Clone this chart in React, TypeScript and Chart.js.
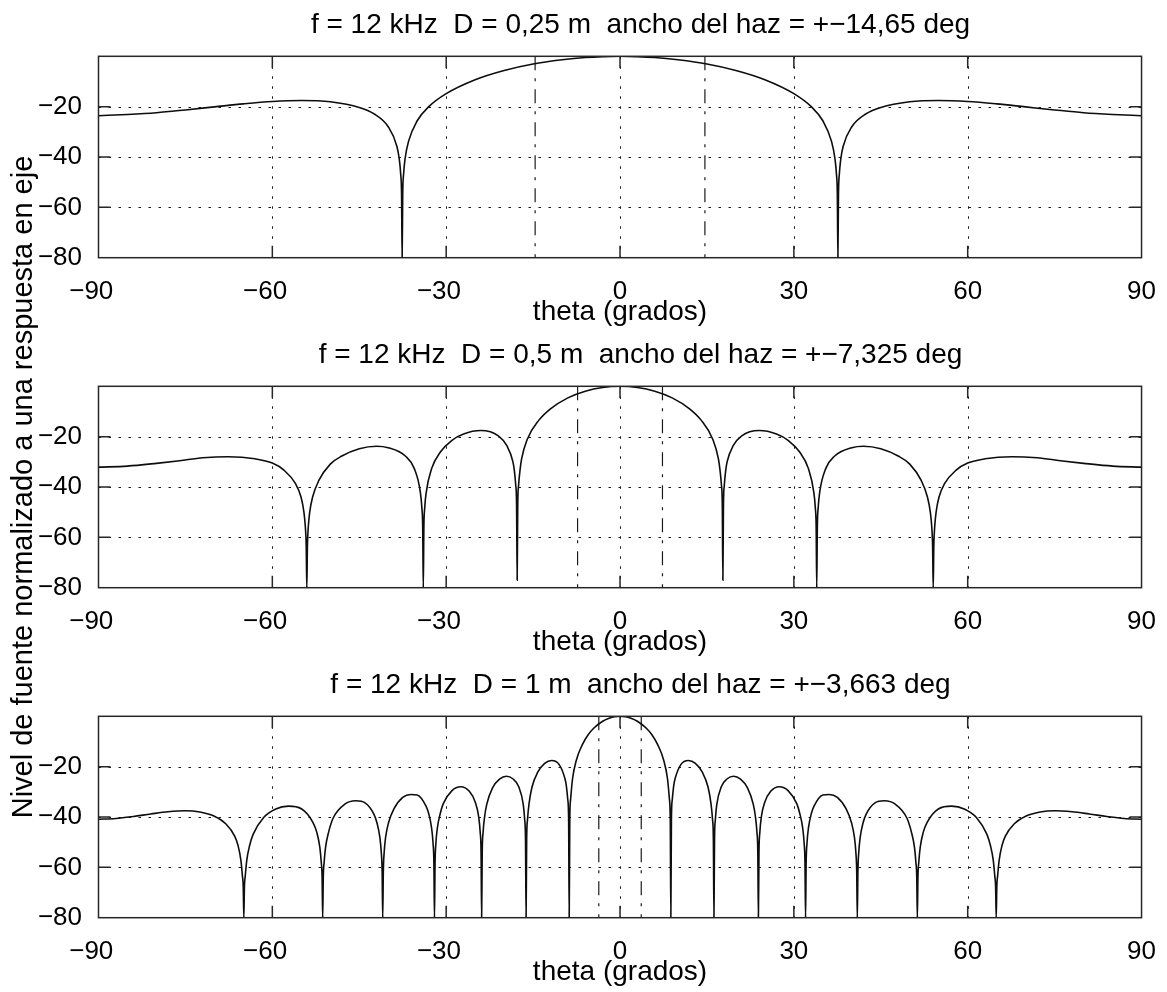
import React, { useEffect, useRef } from "react";
import { Chart, registerables } from "chart.js";

Chart.register(...registerables);

const FONT = "'Liberation Sans', Arial, Helvetica, sans-serif";

// ---- axis ticks ----
const xTickValues = [-90, -60, -30, 0, 30, 60, 90];
const yTickValues = [-80, -60, -40, -20, 0];

// ---- texts ----
const panelTitles = [
  "f = 12 kHz  D = 0,25 m  ancho del haz = +\u221214,65 deg",
  "f = 12 kHz  D = 0,5 m  ancho del haz = +\u22127,325 deg",
  "f = 12 kHz  D = 1 m  ancho del haz = +\u22123,663 deg",
];
const xAxisLabel = "theta (grados)";
const yAxisLabel = "Nivel de fuente normalizado a una respuesta en eje";

// ---- beam width markers (deg) ----
const beamWidths = [14.65, 7.325, 3.663];

// ---- panel 1: D = 0,25 m ----
const theta1 = [
  -90, -85, -80, -75, -70, -65, -60, -55, -50, -45,
  -42.5, -40, -38.5, -38.1, -37.85, -37.7, -37.6, -37.5, -37.35, -37.1,
  -36.5, -35, -33, -30, -25, -20, -15, -10, -6, -3,
  0,
  3, 6, 10, 15, 20, 25, 30, 33, 35, 36.5,
  37.1, 37.35, 37.5, 37.6, 37.7, 37.85, 38.1, 38.5, 40, 42.5,
  45, 50, 55, 60, 65, 70, 75, 80, 85, 90,
];
const level1 = [
  -23.6, -23.1, -22.4, -21.3, -20.1, -18.9, -17.96, -17.57, -18.07, -20.3,
  -22.8, -28.0, -35.8, -40.8, -46.8, -54.8, -80, -54.8, -46.8, -40.8,
  -33.8, -25.6, -20.0, -14.84, -9.3, -5.62, -3.04, -1.38, -0.47, -0.12,
  0,
  -0.12, -0.47, -1.38, -3.04, -5.62, -9.3, -14.84, -20.0, -25.6, -33.8,
  -40.8, -46.8, -54.8, -80, -54.8, -46.8, -40.8, -35.8, -28.0, -22.8,
  -20.3, -18.07, -17.57, -17.96, -18.9, -20.1, -21.3, -22.4, -23.1, -23.6,
];

// ---- panel 2: D = 0,5 m ----
const theta2 = [
  -90, -85, -80, -76, -72, -67.6, -63, -60, -58, -56,
  -55.05, -54.55, -54.3, -54.15, -54.05, -53.95, -53.8, -53.55, -53.05, -52,
  -50, -48, -45, -42, -40, -37, -35.5, -34.45, -34.2, -34.05,
  -33.95, -33.85, -33.7, -33.45, -32.5, -31, -29, -27, -24, -21,
  -19.5, -18.5, -18.25, -18.0, -17.85, -17.75, -17.65, -17.5, -17.25, -17,
  -16, -14, -12, -9, -6, -3,
  0,
  3, 6, 9, 12, 14, 16, 17, 17.25, 17.5, 17.65,
  17.75, 17.85, 18.0, 18.25, 18.5, 19.5, 21, 24, 27, 29,
  31, 32.5, 33.45, 33.7, 33.85, 33.95, 34.05, 34.2, 34.45, 35.5,
  37, 40, 42, 45, 48, 50, 52, 53.05, 53.55, 53.8,
  53.95, 54.05, 54.15, 54.3, 54.55, 55.05, 56, 58, 60, 63,
  67.6, 72, 76, 80, 85, 90,
];
const level2 = [
  -32.1, -31.7, -30.6, -29.55, -28.4, -27.96, -28.8, -30.5, -33.3, -38.7,
  -44, -50, -56, -64, -80, -64, -56, -50, -44, -37.5,
  -30.9, -27.7, -24.8, -23.8, -24.4, -27.8, -32.7, -42.2, -48.2, -56.2,
  -80, -56.2, -48.2, -42.2, -32.6, -26.1, -21.45, -18.94, -17.58, -19.7,
  -23.7, -29.8, -33.2, -39.2, -47.2, -77, -47.2, -39.2, -33.2, -29.0,
  -21.0, -13.44, -8.93, -4.6, -1.95, -0.47,
  0,
  -0.47, -1.95, -4.6, -8.93, -13.44, -21.0, -29.0, -33.2, -39.2, -47.2,
  -77, -47.2, -39.2, -33.2, -29.8, -23.7, -19.7, -17.58, -18.94, -21.45,
  -26.1, -32.6, -42.2, -48.2, -56.2, -80, -56.2, -48.2, -42.2, -32.7,
  -27.8, -24.4, -23.8, -24.8, -27.7, -30.9, -37.5, -44, -50, -56,
  -64, -80, -64, -56, -50, -44, -38.7, -33.3, -30.5, -28.8,
  -27.96, -28.4, -29.55, -30.6, -31.7, -32.1,
];

// ---- panel 3: D = 1 m ----
const theta3 = [
  -90, -87, -84, -81, -78, -75, -72.5,
  -70, -68, -66.5, -65.92, -65.42, -65.17, -65.02, -64.92, -64.82, -64.67,
  -64.42, -63.92, -63.3, -61.5, -59.5, -57.2, -55, -53, -52.31, -51.81,
  -51.56, -51.41, -51.31, -51.21, -51.06, -50.81, -50.31, -49.5, -47.5, -45.6,
  -44, -42.5, -41.95, -41.45, -41.2, -41.05, -40.95, -40.85, -40.7, -40.45,
  -39.95, -39, -37.5, -36.1, -35, -33.5, -33.02, -32.52, -32.27, -32.12,
  -32.02, -31.92, -31.77, -31.52, -31.02, -30.5, -29, -27.5, -26, -25,
  -24.38, -24.13, -23.98, -23.88, -23.78, -23.63, -23.38, -23, -22, -20.8,
  -19.6, -18.5, -17.5, -16.71, -16.46, -16.31, -16.21, -16.11, -15.96, -15.71,
  -15.2, -14.2, -13, -11.8, -10.5, -9.5, -9.27, -9.02, -8.87, -8.77,
  -8.67, -8.52, -8.2, -7.5, -6.5, -5.5, -4.5, -3, -2, -1,
  0,
  1, 2, 3, 4.5, 5.5, 6.5, 7.5, 8.2, 8.52, 8.67,
  8.77, 8.87, 9.02, 9.27, 9.5, 10.5, 11.8, 13, 14.2, 15.2,
  15.71, 15.96, 16.11, 16.21, 16.31, 16.46, 16.71, 17.5, 18.5, 19.6,
  20.8, 22, 23, 23.38, 23.63, 23.78, 23.88, 23.98, 24.13, 24.38,
  25, 26, 27.5, 29, 30.5, 31.02, 31.52, 31.77, 31.92, 32.02,
  32.12, 32.27, 32.52, 33.02, 33.5, 35, 36.1, 37.5, 39, 39.95,
  40.45, 40.7, 40.85, 40.95, 41.05, 41.2, 41.45, 41.95, 42.5, 44,
  45.6, 47.5, 49.5, 50.31, 50.81, 51.06, 51.21, 51.31, 51.41, 51.56,
  51.81, 52.31, 53, 55, 57.2, 59.5, 61.5, 63.3, 63.92, 64.42,
  64.67, 64.82, 64.92, 65.02, 65.17, 65.42, 65.92, 66.5, 68, 70,
  72.5, 75, 78, 81, 84, 87, 90,
];
const level3 = [
  -40.9, -40.6, -39.8, -38.8, -37.9, -37.5, -38.0,
  -39.7, -42.8, -47.6, -51.3, -57.3, -63.3, -68, -80, -68, -63.3,
  -57.3, -51.3, -46.8, -40.2, -36.9, -35.68, -36.7, -42.1, -46.2, -52,
  -58, -64, -80, -64, -58, -52, -46.2, -40.4, -34.9, -33.57,
  -34.4, -38.8, -42.3, -48, -54, -62, -80, -62, -54, -48,
  -42.3, -36.7, -32.2, -31.05, -31.25, -35.6, -38.6, -44.3, -50.3, -58.3,
  -80, -58.3, -50.3, -44.3, -38.6, -34.7, -29.5, -27.96, -29.8, -34.0,
  -40.1, -46.1, -54.1, -80, -54.1, -46.1, -40.1, -35.0, -28.45, -25.0,
  -23.81, -24.8, -27.9, -34.9, -40.9, -48.9, -80, -48.9, -40.9, -34.9,
  -28.2, -22.2, -18.7, -17.57, -19.2, -24.8, -27.5, -33.0, -40.8, -80,
  -40.8, -32.8, -24.9, -17.13, -11.25, -7.32, -4.65, -1.95, -0.85, -0.21,
  0,
  -0.21, -0.85, -1.95, -4.65, -7.32, -11.25, -17.13, -24.9, -32.8, -40.8,
  -80, -40.8, -33.0, -27.5, -24.8, -19.2, -17.57, -18.7, -22.2, -28.2,
  -34.9, -40.9, -48.9, -80, -48.9, -40.9, -34.9, -27.9, -24.8, -23.81,
  -25.0, -28.45, -35.0, -40.1, -46.1, -54.1, -80, -54.1, -46.1, -40.1,
  -34.0, -29.8, -27.96, -29.5, -34.7, -38.6, -44.3, -50.3, -58.3, -80,
  -58.3, -50.3, -44.3, -38.6, -35.6, -31.25, -31.05, -32.2, -36.7, -42.3,
  -48, -54, -62, -80, -62, -54, -48, -42.3, -38.8, -34.4,
  -33.57, -34.9, -40.4, -46.2, -52, -58, -64, -80, -64, -58,
  -52, -46.2, -42.1, -36.7, -35.68, -36.9, -40.2, -46.8, -51.3, -57.3,
  -63.3, -68, -80, -68, -63.3, -57.3, -51.3, -47.6, -42.8, -39.7,
  -38.0, -37.5, -37.9, -38.8, -39.8, -40.6, -40.9,
];

const thetaSets = [theta1, theta2, theta3];
const levelSets = [level1, level2, level3];

const PAGE_W = 1167;
const PAGE_H = 992;
const PANEL_STEP = 330;

function fmtTick(v: number, isX: boolean): string {
  if (v < 0) return "\u2212" + Math.abs(v) + (isX ? "\u2007" : "");
  return String(v);
}

const axesDecor = {
  id: "axesDecor",
  beforeDatasetsDraw(chart: any) {
    const { ctx, chartArea: a, scales } = chart;
    const x = scales.x;
    const y = scales.y;
    ctx.save();
    ctx.strokeStyle = "#1a1a1a";
    ctx.lineWidth = 1;
    ctx.setLineDash([2.5, 7.5]);
    for (const v of xTickValues) {
      if (v <= -90 || v >= 90) continue;
      const px = Math.round(x.getPixelForValue(v)) + 0.5;
      ctx.beginPath();
      ctx.moveTo(px, a.top);
      ctx.lineTo(px, a.bottom);
      ctx.stroke();
    }
    for (const v of yTickValues) {
      if (v <= -80 || v >= 0) continue;
      const py = Math.round(y.getPixelForValue(v)) + 0.5;
      ctx.beginPath();
      ctx.moveTo(a.left, py);
      ctx.lineTo(a.right, py);
      ctx.stroke();
    }
    ctx.restore();
  },
  afterDatasetsDraw(chart: any, _args: any, opts: any) {
    const { ctx, chartArea: a, scales } = chart;
    const x = scales.x;
    const y = scales.y;
    ctx.save();
    ctx.setLineDash([]);
    ctx.strokeStyle = "#262626";
    ctx.lineWidth = 1.5;
    ctx.strokeRect(a.left, a.top, a.right - a.left, a.bottom - a.top);
    const tl = 12;
    ctx.beginPath();
    for (const v of xTickValues) {
      if (v <= -90 || v >= 90) continue;
      const px = x.getPixelForValue(v);
      ctx.moveTo(px, a.top);
      ctx.lineTo(px, a.top + tl);
      ctx.moveTo(px, a.bottom);
      ctx.lineTo(px, a.bottom - tl);
    }
    for (const v of yTickValues) {
      if (v <= -80 || v >= 0) continue;
      const py = y.getPixelForValue(v);
      ctx.moveTo(a.left, py);
      ctx.lineTo(a.left + tl, py);
      ctx.moveTo(a.right, py);
      ctx.lineTo(a.right - tl, py);
    }
    ctx.stroke();
    if (opts && opts.text) {
      ctx.fillStyle = "#000";
      ctx.font = `28px ${FONT}`;
      ctx.textAlign = "center";
      ctx.textBaseline = "alphabetic";
      ctx.fillText(opts.text, 640.5, a.top - 23);
    }
    ctx.restore();
  },
};

function buildConfig(i: number): any {
  const theta = thetaSets[i];
  const level = levelSets[i];
  const bw = beamWidths[i];
  const top = 56.3 + PANEL_STEP * i;
  const bottomPad = PAGE_H - PANEL_STEP * (i + 1);
  const curve = theta.map((t, k) => ({ x: t, y: level[k] }));
  const markerStyle = {
    borderColor: "#1a1a1a",
    borderWidth: 1.2,
    borderDash: [14, 8, 3, 8],
    pointRadius: 0,
    fill: false,
  };
  return {
    type: "line",
    data: {
      datasets: [
        {
          data: curve,
          borderColor: "#0d0d0d",
          borderWidth: 1.6,
          pointRadius: 0,
          fill: false,
          cubicInterpolationMode: "monotone",
        },
        { ...markerStyle, data: [{ x: -bw, y: 0 }, { x: -bw, y: -80 }] },
        { ...markerStyle, data: [{ x: bw, y: 0 }, { x: bw, y: -80 }] },
      ],
    },
    options: {
      responsive: false,
      animation: false,
      devicePixelRatio: 1,
      events: [],
      layout: { padding: { top, bottom: bottomPad, left: 0, right: 22.7 } },
      plugins: {
        legend: { display: false },
        tooltip: { enabled: false },
        title: { display: false },
        axesDecor: { text: panelTitles[i] },
      },
      scales: {
        x: {
          type: "linear",
          min: -90,
          max: 90,
          afterBuildTicks: (s: any) => {
            s.ticks = xTickValues.map((v) => ({ value: v }));
          },
          afterFit: (s: any) => {
            s.height = 72.3;
          },
          grid: { display: false },
          border: { display: false },
          ticks: {
            autoSkip: false,
            maxRotation: 0,
            padding: 11,
            color: "#000",
            font: { family: FONT, size: 26 },
            callback: (v: any) => fmtTick(Number(v), true),
          },
          title: {
            display: true,
            text: xAxisLabel,
            color: "#000",
            font: { family: FONT, size: 28 },
            padding: { top: 0, bottom: 1 },
          },
        },
        y: {
          type: "linear",
          min: -80,
          max: 0,
          afterBuildTicks: (s: any) => {
            s.ticks = yTickValues.map((v) => ({ value: v }));
          },
          afterFit: (s: any) => {
            s.width = 98.5;
          },
          grid: { display: false },
          border: { display: false },
          ticks: {
            padding: 8.5,
            color: "#000",
            font: { family: FONT, size: 26 },
            callback: (v: any) => (Number(v) === 0 ? "" : fmtTick(Number(v), false)),
          },
          title: {
            display: i === 1,
            text: yAxisLabel,
            color: "#000",
            font: { family: FONT, size: 29 },
            padding: { top: 6.3, bottom: 0 },
          },
        },
      },
    },
    plugins: [axesDecor],
  };
}

export default function App() {
  const ref0 = useRef<HTMLCanvasElement | null>(null);
  const ref1 = useRef<HTMLCanvasElement | null>(null);
  const ref2 = useRef<HTMLCanvasElement | null>(null);
  const refs = [ref0, ref1, ref2];

  useEffect(() => {
    const charts = refs.map((r, i) => new Chart(r.current as HTMLCanvasElement, buildConfig(i)));
    return () => charts.forEach((c) => c.destroy());
  }, []);

  return (
    <div
      style={{
        position: "absolute",
        left: 0,
        top: 0,
        width: PAGE_W,
        height: PAGE_H,
        background: "#fff",
        overflow: "hidden",
      }}
    >
      {refs.map((r, i) => (
        <canvas
          key={i}
          ref={r}
          width={PAGE_W}
          height={PAGE_H}
          style={{ position: "absolute", left: 0, top: 0, width: PAGE_W, height: PAGE_H }}
        />
      ))}
    </div>
  );
}
